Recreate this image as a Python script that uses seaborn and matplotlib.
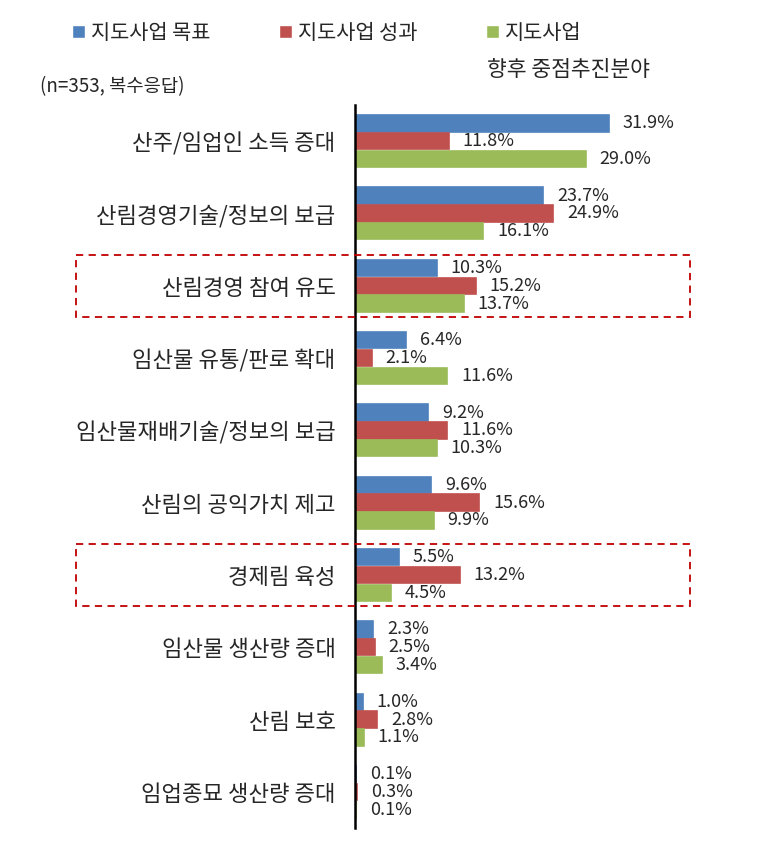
import pandas as pd
import seaborn as sns
import matplotlib.pyplot as plt
from matplotlib.patches import Rectangle
from matplotlib.transforms import blended_transform_factory

# Data
categories = [
    "산주/임업인 소득 증대", "산림경영기술/정보의 보급", "산림경영 참여 유도",
    "임산물 유통/판로 확대", "임산물재배기술/정보의 보급", "산림의 공익가치 제고",
    "경제림 육성", "임산물 생산량 증대", "산림 보호", "임업종묘 생산량 증대",
]
series = ["지도사업 목표", "지도사업 성과", "지도사업"]
goal = [31.9, 23.7, 10.3, 6.4, 9.2, 9.6, 5.5, 2.3, 1.0, 0.1]
result = [11.8, 24.9, 15.2, 2.1, 11.6, 15.6, 13.2, 2.5, 2.8, 0.3]
future = [29.0, 16.1, 13.7, 11.6, 10.3, 9.9, 4.5, 3.4, 1.1, 0.1]
highlighted = ["산림경영 참여 유도", "경제림 육성"]
colors = ["#4F81BD", "#C0504D", "#9BBB59"]

df = pd.DataFrame({
    "분야": categories * 3,
    "구분": [s for s in series for _ in categories],
    "비율": goal + result + future,
})

sns.set_style("white")
plt.rcParams["font.family"] = ["Noto Sans CJK KR", "DejaVu Sans"]

fig = plt.figure(figsize=(7.65, 8.49), dpi=100)
ax = fig.add_axes([355 / 765, 1 - 828 / 849, 318 / 765, 723 / 849])

sns.barplot(data=df, y="분야", x="비율", hue="구분", palette=colors, saturation=1,
            orient="h", width=0.74, gap=0.08, ax=ax)

for cont in ax.containers:
    for bar in cont:
        bar.set_edgecolor(bar.get_facecolor())
        bar.set_linewidth(1.2)
    ax.bar_label(cont, fmt="%.1f%%", padding=10, fontsize=13)

ax.set_xlim(0, 40)
ax.set_xlabel("")
ax.set_ylabel("")
ax.set_xticks([])
ax.tick_params(axis="y", length=0, pad=14, labelsize=16)
sns.despine(ax=ax, top=True, right=True, bottom=True, left=False)
ax.spines["left"].set_color("black")
ax.spines["left"].set_linewidth(1.8)
ax.spines["left"].set_zorder(1)

# legend
handles, labels = ax.get_legend_handles_labels()
ax.get_legend().remove()
fig.legend(handles, labels, loc="center left", bbox_to_anchor=(62 / 765, 1 - 33 / 849),
           ncol=3, frameon=False, fontsize=15, handlelength=0.6, handleheight=0.6,
           handletextpad=0.3, columnspacing=3.3, borderpad=0)
fig.text(487 / 765, 1 - 70 / 849, "향후 중점추진분야", fontsize=15.5, va="center", ha="left")
fig.text(40 / 765, 1 - 87 / 849, "(n=353, 복수응답)", fontsize=13.5, va="center", ha="left")

# dashed boxes around highlighted categories
trans = blended_transform_factory(fig.transFigure, ax.transData)
for name in highlighted:
    i = categories.index(name)
    box = Rectangle((76 / 765, i - 0.43), (690 - 76) / 765, 0.86, transform=trans,
                    fill=False, edgecolor="#C00000", linestyle=(0, (4, 3)),
                    linewidth=1.3, clip_on=False)
    fig.add_artist(box)

fig.savefig("out.png", dpi=100)
